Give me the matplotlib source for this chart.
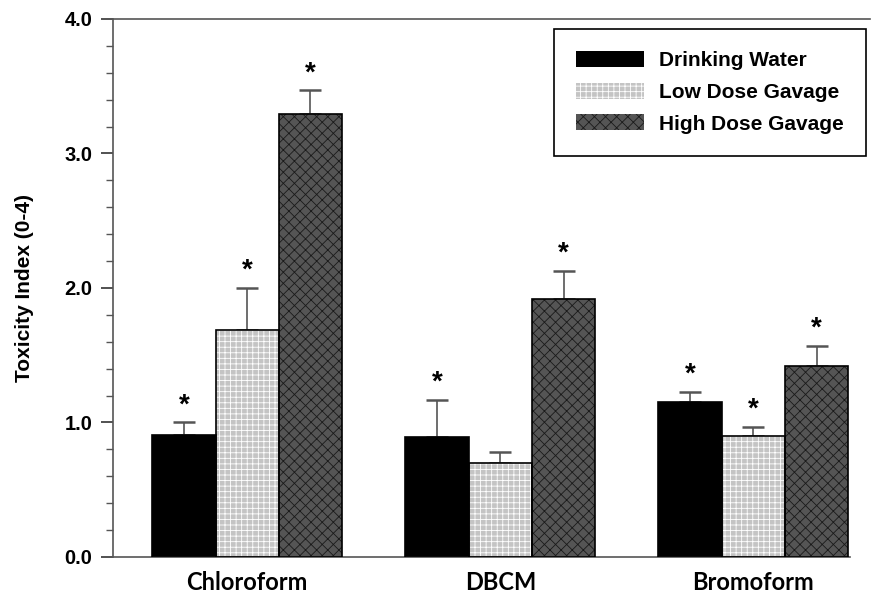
import matplotlib
matplotlib.use("Agg")
import matplotlib.pyplot as plt
import numpy as np

# data
compounds = ['Chloroform', 'DBCM', 'Bromoform']
groups = ['Drinking Water', 'Low Dose Gavage', 'High Dose Gavage']
drinking = [0.91, 0.89, 1.15]
low_dose = [1.69, 0.70, 0.90]
high_dose = [3.29, 1.92, 1.42]
drinking_err = [0.09, 0.28, 0.08]
low_dose_err = [0.31, 0.08, 0.07]
high_dose_err = [0.18, 0.21, 0.15]
signif = [[True, True, True], [True, False, True], [True, True, True]]

values = [drinking, low_dose, high_dose]
errors = [drinking_err, low_dose_err, high_dose_err]

faces = ['black', '#c4c4c4', '#555555']
hatch_cols = ['black', 'white', '#1a1a1a']
hatches = [None, '+++', 'xxx']

width = 0.25
x = np.arange(len(compounds))

fig = plt.figure(figsize=(8.78, 6.07), dpi=100)
ax = fig.add_axes([0.1287, 0.0824, 0.862, 0.8863])

plt.rcParams['hatch.linewidth'] = 0.6

handles = []
for i in range(3):
    pos = x + (i - 1) * width
    ax.bar(pos, values[i], width, color=faces[i], edgecolor=hatch_cols[i],
           hatch=hatches[i], linewidth=0, zorder=2)
    ax.bar(pos, values[i], width, fill=False, edgecolor='black', linewidth=1.2, zorder=3)
    ax.errorbar(pos, values[i], yerr=[np.zeros(3), errors[i]], fmt='none',
                ecolor='#555555', elinewidth=1.2, capsize=8, capthick=1.8, zorder=1)
    for j in range(3):
        if signif[i][j]:
            ax.text(pos[j], values[i][j] + errors[i][j] + 0.03, '*', ha='center', va='bottom',
                    fontsize=20, fontweight='bold', family='Liberation Sans')
    handles.append(plt.Rectangle((0, 0), 1, 1, facecolor=faces[i], edgecolor=hatch_cols[i],
                                 hatch=hatches[i], linewidth=0))

ax.set_xlim(-0.53, 2.46)
ax.set_ylim(0, 4.0)
ax.spines['right'].set_visible(False)
ax.spines['bottom'].set_bounds(-0.53, 2.38)
for s in ['left', 'top', 'bottom']:
    ax.spines[s].set_color('#555555')
    ax.spines[s].set_linewidth(1.2)

ax.set_yticks([0, 1, 2, 3, 4])
ax.set_yticklabels(['0.0', '1.0', '2.0', '3.0', '4.0'], fontsize=14.5, fontweight='bold',
                   family='Liberation Sans')
ax.set_yticks(np.arange(0, 4.01, 0.2), minor=True)
ax.tick_params(axis='y', which='major', direction='out', length=9, width=1.2, color='#333333',
               pad=6)
ax.tick_params(axis='y', which='minor', direction='out', length=5, width=1, color='#555555')

ax.set_xticks(x)
ax.set_xticklabels(compounds, fontsize=17, fontweight='bold', family='Lato')
ax.tick_params(axis='x', length=0, pad=10)

ax.set_ylabel('Toxicity Index (0-4)', fontsize=15, fontweight='bold', family='Liberation Sans',
              labelpad=22)

leg = ax.legend(handles, groups, loc='upper right', bbox_to_anchor=(0.986, 0.952),
                bbox_transform=fig.transFigure, borderaxespad=0, fancybox=False,
                edgecolor='black',
                prop={'family': 'Liberation Sans', 'size': 15, 'weight': 'bold'},
                handlelength=3.3, handleheight=0.8, labelspacing=0.6,
                borderpad=1.05, handletextpad=0.7, framealpha=1)
leg.get_frame().set_linewidth(1.2)

fig.savefig('out.png', dpi=100)
